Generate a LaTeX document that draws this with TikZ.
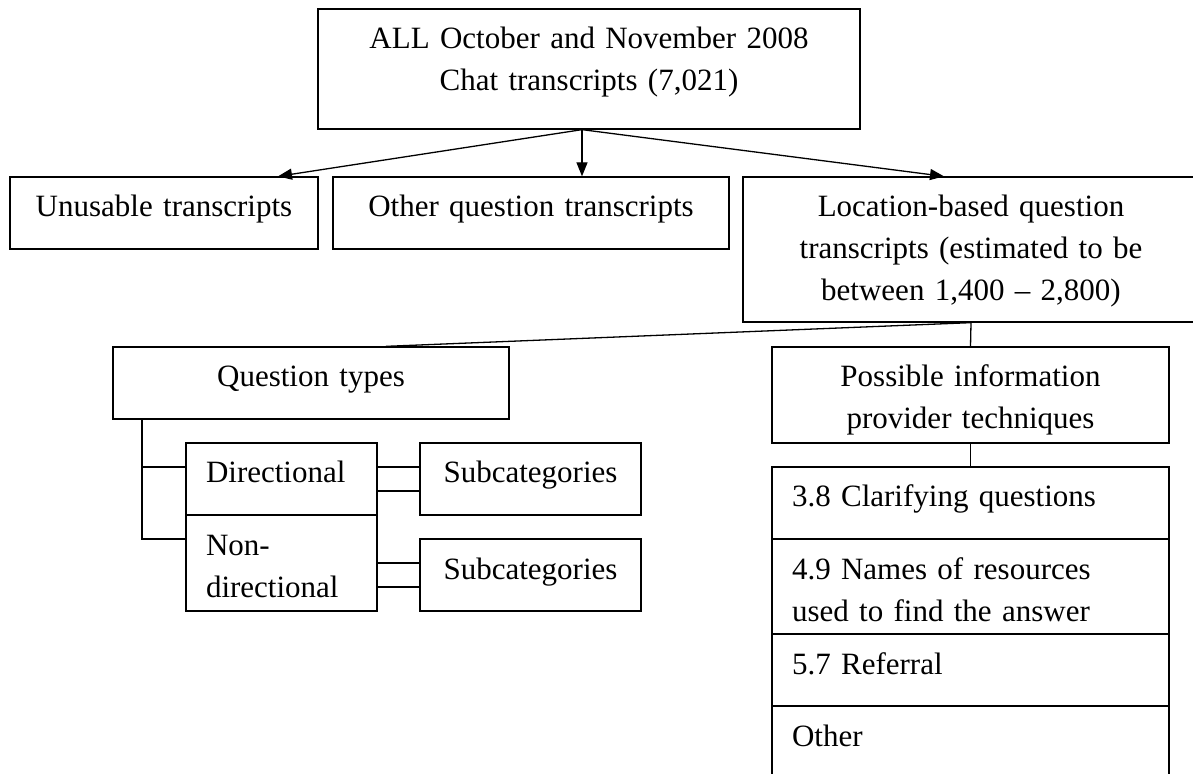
\documentclass[tikz,border=0pt]{standalone}
\usepackage{fontspec}
\setmainfont{Liberation Serif}
\usetikzlibrary{arrows.meta}

\tikzset{
  cell/.style 2 args={draw, line width=0.65pt, inner xsep=0pt, inner ysep=0pt,
    text width=#1, text height=20pt, text depth=#2-20pt, align=center},
  leftcell/.style 2 args={cell={#1-20pt}{#2}, inner xsep=10pt, align=left},
  link/.style={line width=0.65pt},
  arr/.style={link, -{Triangle[length=7pt,width=5.5pt]}}
}

\begin{document}
\begin{tikzpicture}[x=0.5pt, y=-0.5pt, font=\fontsize{15.5}{21}\selectfont]
        \useasboundingbox (0,0) rectangle (1193,774);
        \clip (0,0) rectangle (1193,774);

        \node[cell={271pt}{60pt}] (top) at (589,69) {ALL October and November 2008\\Chat transcripts (7,021)};

        \node[cell={154pt}{36pt}] (unus) at (164,213) {Unusable transcripts};
        \node[cell={198pt}{36pt}] (other) at (531,213) {Other question transcripts};
        \node[cell={228pt}{72.5pt}] (loc) at (971,249.5) {Location-based question\\transcripts (estimated to be\\between 1,400 -- 2,800)};

        \coordinate (hub) at ([xshift=-3.5pt]top.south);
        \draw[arr] (hub) -- ([xshift=57pt]unus.north);
        \draw[arr] (hub) -- (hub |- other.north);
        \draw[arr] (hub) -- ([xshift=-13.5pt]loc.north);

        % question types
        \node[cell={198pt}{36pt}] (qtypes) at (311,383) {Question types};
        \node[leftcell={95.5pt}{36pt}] (dir) at (281.5,479) {Directional};
        \node[leftcell={95.5pt}{48pt}] (nondir) at (281.5,563) {Non-\\directional};
        \node[cell={110.5pt}{36pt}] (subdir) at (530.5,479) {Subcategories};
        \node[cell={110.5pt}{36pt}] (subnon) at (530.5,575) {Subcategories};

        \draw[link] ([xshift=14.75pt]qtypes.south west) |- ([yshift=6pt]dir.west);
        \draw[link] ([xshift=14.75pt]qtypes.south west) |- ([yshift=12pt]nondir.west);
        \draw[link] ([yshift=6pt]dir.east) -- ([yshift=6pt]subdir.west);
        \draw[link] ([yshift=-6pt]dir.east) -- ([yshift=-6pt]subdir.west);
        \draw[link] (nondir.east) -- ([yshift=6pt]subnon.west);
        \draw[link] ([yshift=-12pt]nondir.east) -- ([yshift=-6pt]subnon.west);

        % provider techniques
        \node[cell={198.5pt}{48pt}] (prov) at (970.5,395) {Possible information\\provider techniques};
        \node[leftcell={198.5pt}{36pt}] (clar) at (970.5,503) {3.8 Clarifying questions};
        \node[leftcell={198.5pt}{47.5pt}] (names) at (970.5,586.5) {4.9 Names of resources\\used to find the answer};
        \node[leftcell={198.5pt}{36pt}] (refer) at (970.5,670) {5.7 Referral};
        \node[leftcell={198.5pt}{47pt}] (rest) at (970.5,753) {Other};

        \draw[link] (loc.south) -- (prov.north);
        \draw[link] (loc.south) -- ([xshift=37.5pt]qtypes.north);
        \draw[link] (prov.south) -- (clar.north);

    \end{tikzpicture}
\end{document}
